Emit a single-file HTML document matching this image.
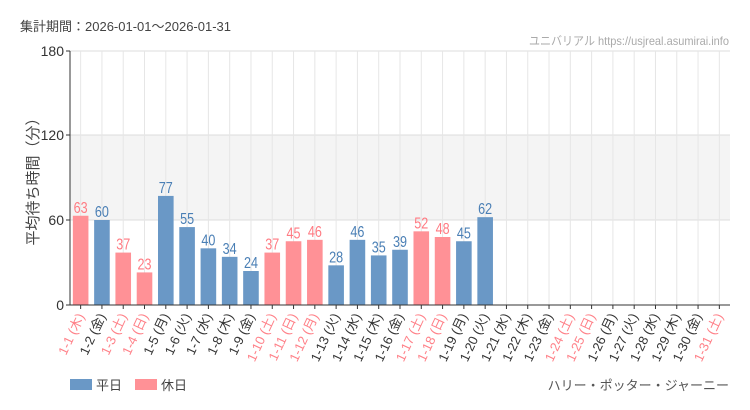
<!DOCTYPE html><html><head><meta charset="utf-8"><style>body{margin:0;background:#fff}svg{display:block}</style></head><body>
<svg id="s" width="750" height="410" xmlns="http://www.w3.org/2000/svg" font-family="'Liberation Sans','Noto Sans CJK JP',sans-serif">
<text x="20" y="31" font-size="13" fill="#444">集計期間：2026-01-01〜2026-01-31</text>
<text x="729" y="45" font-size="12" fill="#aaa" text-anchor="end" textLength="200" lengthAdjust="spacingAndGlyphs">ユニバリアル  https://usjreal.asumirai.info</text>
<rect x="70" y="135" width="660" height="85" fill="#f4f4f4"/>
<line x1="70" y1="51" x2="730" y2="51" stroke="#ddd"/>
<line x1="70" y1="135" x2="730" y2="135" stroke="#ddd"/>
<line x1="70" y1="220" x2="730" y2="220" stroke="#ddd"/>
<g id="g"></g>
<line x1="70" y1="51" x2="70" y2="305" stroke="#333"/>
<line x1="70" y1="305" x2="730" y2="305" stroke="#333"/>
<g font-size="14" fill="#333" text-anchor="end"><text x="64" y="56">180</text><text x="64" y="140">120</text><text x="64" y="225">60</text><text x="64" y="310">0</text></g>
<g stroke="#333"><line x1="66" y1="51" x2="70" y2="51"/><line x1="66" y1="135" x2="70" y2="135"/><line x1="66" y1="220" x2="70" y2="220"/><line x1="66" y1="305" x2="70" y2="305"/></g>
<text transform="translate(38,178) rotate(-90)" font-size="15" fill="#444" text-anchor="middle">平均待ち時間（分）</text>
<rect x="70" y="379" width="22" height="11" fill="#6a98c6"/><text x="96" y="390" font-size="13" fill="#444">平日</text>
<rect x="135" y="379" width="22" height="11" fill="#ff9196"/><text x="161" y="390" font-size="13" fill="#444">休日</text>
<text x="729" y="390" font-size="13" fill="#555" text-anchor="end">ハリー・ポッター・ジャーニー</text>
</svg>
<script>
var v=[63,60,37,23,77,55,40,34,24,37,45,46,28,46,35,39,52,48,45,62];
var hol=[1,3,4,10,11,12,17,18,24,25,31];
var wd=['木','金','土','日','月','火','水'];
var h='';
for(var i=0;i<31;i++){var cx=70+21.29*(i+.5);
h+='<line x1="'+cx+'" y1="51" x2="'+cx+'" y2="305" stroke="#e6e6e6"/>';}
for(var i=0;i<31;i++){var cx=70+21.29*(i+.5),d=i+1,ho=hol.indexOf(d)>=0,c=ho?'#ff9196':'#6a98c6',tc=ho?'#ff8088':'#333';
if(i<v.length){var y=305-v[i]*85/60;h+='<rect x="'+(cx-7.8)+'" y="'+y+'" width="15.6" height="'+(305-y)+'" fill="'+c+'"/>';
h+='<text x="'+cx+'" y="'+(y-3)+'" font-size="16" text-anchor="middle" fill="'+(ho?'#ff7a82':'#4a7fb5')+'" textLength="14" lengthAdjust="spacingAndGlyphs">'+v[i]+'</text>';}
h+='<line x1="'+cx+'" y1="305" x2="'+cx+'" y2="309" stroke="#333"/>';
h+='<text transform="translate('+(cx+4)+',316) rotate(-65)" font-size="13" text-anchor="end" fill="'+tc+'">1-'+d+' ('+wd[i%7]+')</text>';}
document.getElementById('g').innerHTML=h;
</script>
</body></html>
